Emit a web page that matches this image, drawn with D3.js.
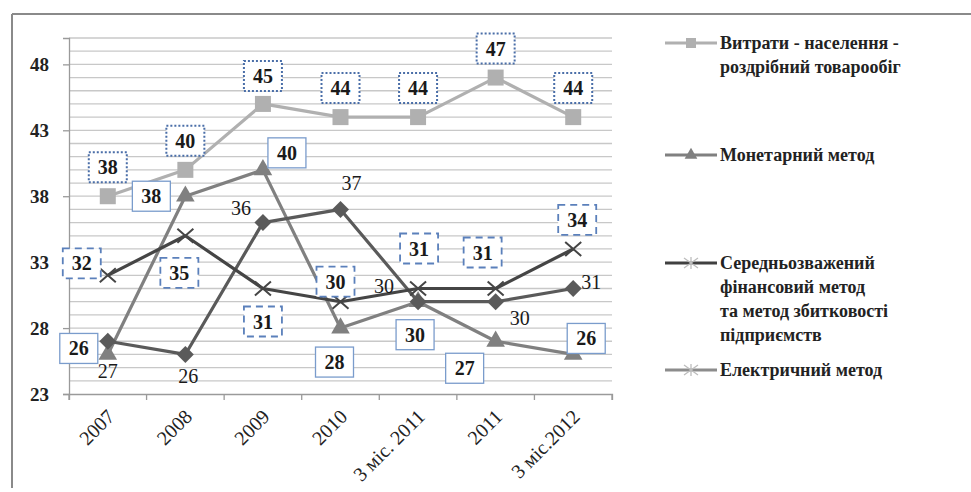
<!DOCTYPE html>
<html><head><meta charset="utf-8">
<script src="https://cdn.jsdelivr.net/npm/d3@7/dist/d3.min.js"></script>
<style>body{margin:0;background:#fff}svg{display:block}svg text{font-family:"Liberation Serif","DejaVu Serif",serif}</style>
</head><body><svg id="c" width="971" height="492"></svg>
<script>
const categories = ["2007","2008","2009","2010","3 міс. 2011","2011","3 міс.2012"];
const yTicks = [23,28,33,38,43,48];
const spending = [38,40,45,44,44,47,44];       // squares
const monetary = [26,38,40,28,30,27,26];       // triangles
const diamondSeries = [27,26,36,37,30,30,31];  // diamonds
const weighted = [32,35,31,30,31,31,34];       // crosses
const legendNames = [["Витрати - населення -","роздрібний товарообіг"],["Монетарний метод"],["Середньозважений","фінансовий метод","та метод збитковості","підприємств"],["Електричний метод"]];

// label offsets (style/position config)
const offSpending = [[0,-29],[0,-29],[0,-28],[0,-29],[0,-29],[0,-29],[0,-29]];
const offMonetary = [[-29,-6],[-34,0],[24,-17],[-6,34],[-3,33],[-31,27],[13,-16]];
const offDiamond = [[0,30],[3,22],[-22,-15],[11,-26],[-34,-16],[24,16],[18,-7]];
const offWeighted = [[-26,-12],[-6,37],[0,33],[-5,-20],[1,-40],[-13,-36],[4,-29]];

const svg = d3.select("#c");
const FONT = "Liberation Serif";
const x = d3.scaleBand().domain(categories).range([69,612]);
const cx = d => x(d)+x.bandwidth()/2;
const y = d3.scaleLinear().domain([23,50]).range([394,38]);

svg.append("line").attr("x1",12).attr("x2",971).attr("y1",14).attr("y2",14).attr("stroke","#8a8a8a").attr("stroke-width",2);
svg.append("line").attr("x1",12).attr("x2",12).attr("y1",14).attr("y2",488).attr("stroke","#8a8a8a").attr("stroke-width",2);

svg.append("g").selectAll("line").data(d3.range(24,51)).join("line")
  .attr("x1",69).attr("x2",612).attr("y1",d=>y(d)).attr("y2",d=>y(d))
  .attr("stroke","#c8c8c8").attr("stroke-width",1.3);

const ya = svg.append("g").attr("transform","translate(69,0)")
  .call(d3.axisLeft(y).tickValues(yTicks).tickSize(6).tickPadding(14).tickFormat(d3.format("d")));
ya.attr("font-family",null);
ya.select(".domain").attr("stroke","#9a9a9a").attr("stroke-width",1.3);
ya.selectAll(".tick line").attr("stroke","#9a9a9a").attr("stroke-width",1.3);
ya.selectAll("text").style("font-family",FONT).attr("font-size",19).attr("font-weight","bold").attr("fill","#222");

const xa = svg.append("g").attr("transform","translate(0,394)")
  .call(d3.axisBottom(x).tickSize(6).tickSizeOuter(6));
xa.attr("font-family",null);
xa.select(".domain").attr("stroke","#9a9a9a").attr("stroke-width",1.3);
xa.selectAll(".tick line").attr("stroke","#9a9a9a").attr("stroke-width",1.3).attr("transform",`translate(${-x.bandwidth()/2},0)`);
xa.append("line").attr("x1",612).attr("x2",612).attr("y1",0).attr("y2",6).attr("stroke","#9a9a9a").attr("stroke-width",1.3);
xa.selectAll(".tick text").style("font-family",FONT).attr("font-size",20).attr("fill","#222")
  .attr("text-anchor","end").attr("dy","0.35em").attr("y",0)
  .attr("transform","translate(3,19) rotate(-45)");

const line = d3.line().x((d,i)=>cx(categories[i])).y(d=>y(d));
function drawSeries(vals,color,w){
  svg.append("path").datum(vals).attr("d",line).attr("fill","none").attr("stroke",color).attr("stroke-width",w).attr("stroke-linejoin","round");
}
drawSeries(spending,"#b0b0b0",3.2);
drawSeries(monetary,"#808080",3.2);
drawSeries(diamondSeries,"#5a5a5a",3.2);
drawSeries(weighted,"#454545",3.2);

const g = svg.append("g");
g.selectAll(".sq").data(spending).join("rect")
  .attr("x",(d,i)=>cx(categories[i])-8).attr("y",d=>y(d)-8).attr("width",16).attr("height",16).attr("fill","#b0b0b0");
g.selectAll(".tri").data(monetary).join("path")
  .attr("transform",(d,i)=>`translate(${cx(categories[i])},${y(d)})`)
  .attr("d",d3.symbol(d3.symbolTriangle,150)).attr("fill","#808080");
g.selectAll(".dia").data(diamondSeries).join("path")
  .attr("transform",(d,i)=>`translate(${cx(categories[i])},${y(d)}) rotate(45)`)
  .attr("d","M-6,-6H6V6H-6Z").attr("fill","#5a5a5a");
g.selectAll(".x").data(weighted).join("path")
  .attr("transform",(d,i)=>`translate(${cx(categories[i])},${y(d)})`)
  .attr("d","M-8,-7L8,7M-8,7L8,-7").attr("stroke","#454545").attr("stroke-width",2).attr("fill","none");

function labels(vals,offs,boxStyle){
  vals.forEach((v,i)=>{
    const px = cx(categories[i])+offs[i][0], py = y(v)+offs[i][1];
    if(boxStyle){
      g.append("rect").attr("x",px-19).attr("y",py-15).attr("width",38).attr("height",30)
        .attr("fill","#fff").attr("stroke",boxStyle.c).attr("stroke-width",boxStyle.w)
        .attr("stroke-dasharray",boxStyle.dash);
    }
    g.append("text").attr("x",px).attr("y",py).attr("dy","0.35em").attr("text-anchor","middle")
      .style("font-family",FONT).attr("font-size",20).attr("font-weight",boxStyle?"bold":"normal")
      .attr("fill","#1a1a1a").text(v);
  });
}
labels(spending,offSpending,{c:"#4a6ea8",w:2,dash:"2,2"});
labels(monetary,offMonetary,{c:"#7a9ccc",w:1.3,dash:null});
labels(diamondSeries,offDiamond,null);
labels(weighted,offWeighted,{c:"#5b80bb",w:1.8,dash:"7,5"});

const legY = [43,155,263,370];
const legColors = ["#b0b0b0","#808080","#404040","#8c8c8c"];
const lg = svg.append("g");
legendNames.forEach((lines,k)=>{
  const yy = legY[k];
  lg.append("line").attr("x1",665).attr("x2",717).attr("y1",yy).attr("y2",yy).attr("stroke",legColors[k]).attr("stroke-width",3.2);
  if(k===0) lg.append("rect").attr("x",686).attr("y",yy-5).attr("width",10).attr("height",10).attr("fill","#b0b0b0");
  if(k===1) lg.append("path").attr("transform",`translate(691,${yy})`).attr("d",d3.symbol(d3.symbolTriangle,70)).attr("fill","#808080");
  if(k>=2) lg.append("path").attr("transform",`translate(691,${yy})`).attr("d","M-7,-5L7,5M-7,5L7,-5M0,-6V6").attr("stroke","#bdbdbd").attr("stroke-width",1.3).attr("fill","none");
  lines.forEach((t,j)=>{
    lg.append("text").attr("x",720).attr("y",yy+j*24).attr("dy","0.35em")
      .style("font-family",FONT).attr("font-size",18).attr("font-weight","bold").attr("fill","#222").text(t);
  });
});
</script></body></html>
